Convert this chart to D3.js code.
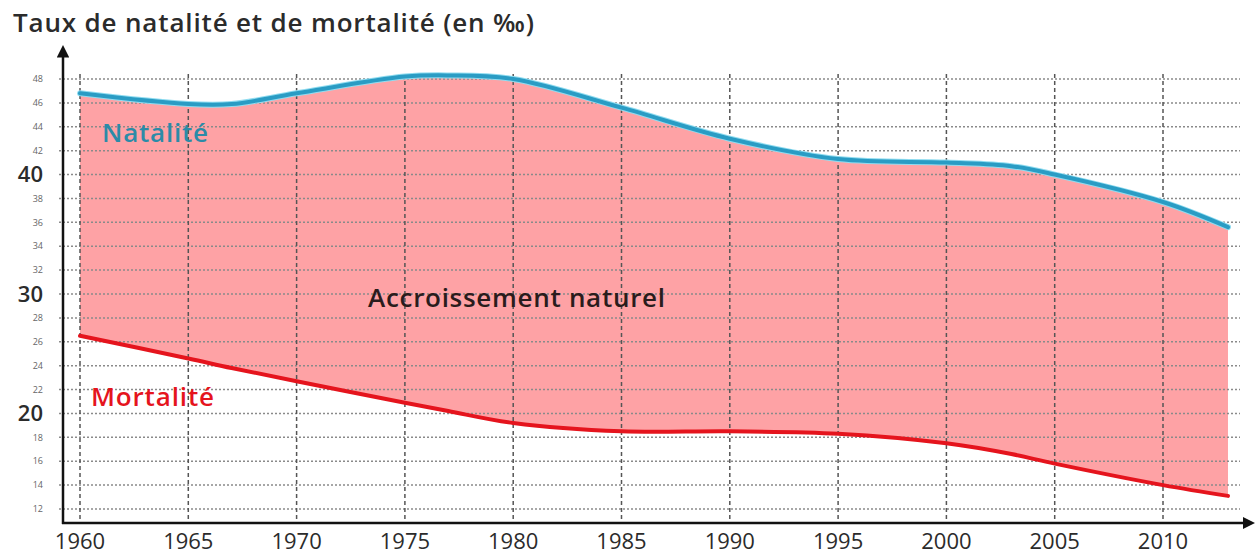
<!DOCTYPE html>
<html>
<head>
<meta charset="utf-8">
<script src="https://cdn.jsdelivr.net/npm/d3@7"></script>
<style>
  body { margin: 0; background: #fff; }
  svg { display: block; font-family: "Open Sans", sans-serif; }
</style>
</head>
<body>
<div id="chart"></div>
<script>
// data (‰)
const years = [1960, 1965, 1967, 1970, 1975, 1977, 1980, 1985, 1990, 1995, 2000, 2003, 2005, 2010, 2013];
const natalite = [46.8, 45.9, 45.9, 46.8, 48.2, 48.3, 48.0, 45.6, 43.0, 41.3, 41.0, 40.7, 40.0, 37.7, 35.6];
const mortalite = [26.5, 24.6, 23.8, 22.7, 20.9, 20.2, 19.2, 18.5, 18.5, 18.3, 17.5, 16.6, 15.8, 14.0, 13.1];
const xTicks = [1960, 1965, 1970, 1975, 1980, 1985, 1990, 1995, 2000, 2005, 2010];
const yTicks = [12, 14, 16, 18, 20, 22, 24, 26, 28, 30, 32, 34, 36, 38, 40, 42, 44, 46, 48];
const bigTicks = [20, 30, 40];

const width = 1257;
const height = 556;

const rows = years.map((y, i) => ({ year: y, nat: natalite[i], mort: mortalite[i] }));

const svg = d3.select('#chart')
  .append('svg')
  .attr('width', width)
  .attr('height', height);

// scales
const x = d3.scaleLinear().domain([1960, 2010]).range([80, 1163]);
const y = d3.scaleLinear().domain([12, 48]).range([509, 79]);
const axisX = 63;
const axisY = 523;
const curve = d3.curveCatmullRom.alpha(0.5);

// filled area between the two rates
const area = d3.area()
  .x(d => x(d.year))
  .y0(d => y(d.mort))
  .y1(d => y(d.nat))
  .curve(curve);

svg.append('path')
  .datum(rows)
  .attr('d', area)
  .attr('fill', '#fea2a5');

// horizontal dotted grid
svg.append('g')
  .selectAll('line')
  .data(yTicks)
  .enter()
  .append('line')
  .attr('x1', axisX - 4)
  .attr('x2', 1240)
  .attr('y1', d => y(d))
  .attr('y2', d => y(d))
  .attr('stroke', '#8a8a8a')
  .attr('stroke-width', 1.5)
  .attr('stroke-dasharray', '2,2');

// vertical dashed grid
svg.append('g')
  .selectAll('line')
  .data(xTicks)
  .enter()
  .append('line')
  .attr('x1', d => x(d))
  .attr('x2', d => x(d))
  .attr('y1', 74)
  .attr('y2', axisY)
  .attr('stroke', '#555')
  .attr('stroke-width', 1.5)
  .attr('stroke-dasharray', '4,3');

// curves
const natLine = d3.line()
  .x(d => x(d.year))
  .y(d => y(d.nat))
  .curve(curve);

const mortLine = d3.line()
  .x(d => x(d.year))
  .y(d => y(d.mort))
  .curve(curve);

svg.append('path')
  .datum(rows)
  .attr('d', natLine)
  .attr('fill', 'none')
  .attr('stroke', '#8fdcf0')
  .attr('stroke-width', 6)
  .attr('stroke-linecap', 'round');

svg.append('path')
  .datum(rows)
  .attr('d', natLine)
  .attr('fill', 'none')
  .attr('stroke', '#2a9cc4')
  .attr('stroke-width', 4)
  .attr('stroke-linecap', 'round');

svg.append('path')
  .datum(rows)
  .attr('d', mortLine)
  .attr('fill', 'none')
  .attr('stroke', '#e5141d')
  .attr('stroke-width', 4)
  .attr('stroke-linecap', 'round');

// axes with arrows
const defs = svg.append('defs');
defs.append('marker')
  .attr('id', 'arrow')
  .attr('viewBox', '0 0 10 10')
  .attr('refX', 2)
  .attr('refY', 5)
  .attr('markerWidth', 5)
  .attr('markerHeight', 5)
  .attr('orient', 'auto')
  .append('path')
  .attr('d', 'M0,0 L10,5 L0,10 Z')
  .attr('fill', '#111');

svg.append('line')
  .attr('x1', axisX)
  .attr('x2', axisX)
  .attr('y1', axisY + 1)
  .attr('y2', 55)
  .attr('stroke', '#111')
  .attr('stroke-width', 2.5)
  .attr('marker-end', 'url(#arrow)');

svg.append('line')
  .attr('x1', axisX - 1)
  .attr('x2', 1245)
  .attr('y1', axisY)
  .attr('y2', axisY)
  .attr('stroke', '#111')
  .attr('stroke-width', 2.5)
  .attr('marker-end', 'url(#arrow)');

// y tick labels
svg.append('g')
  .selectAll('text')
  .data(yTicks)
  .enter()
  .append('text')
  .attr('x', 43)
  .attr('y', d => y(d))
  .attr('dy', '0.36em')
  .attr('text-anchor', 'end')
  .style('font-size', d => bigTicks.includes(d) ? '22px' : '9px')
  .style('font-weight', d => bigTicks.includes(d) ? 600 : 400)
  .style('fill', d => bigTicks.includes(d) ? '#2b2b2b' : '#666')
  .text(d => d);

// x tick labels
svg.append('g')
  .selectAll('text')
  .data(xTicks)
  .enter()
  .append('text')
  .attr('x', d => x(d))
  .attr('y', 549)
  .attr('text-anchor', 'middle')
  .style('font-size', '22px')
  .style('font-weight', 500)
  .style('fill', '#2b2b2b')
  .text(d => d);

// title and labels (widths measured on the reference)
const addLabel = (txt, lx, ly, size, len, color) => {
  svg.append('text')
    .attr('x', lx)
    .attr('y', ly)
    .attr('textLength', len)
    .attr('lengthAdjust', 'spacing')
    .style('font-size', size + 'px')
    .style('font-weight', 600)
    .style('fill', color)
    .text(txt);
};

addLabel('Taux de natalité et de mortalité (en ‰)', 13, 32, 26, 521, '#2b2b2b');
addLabel('Natalité', 102, 142, 26, 106, '#2b8ba8');
addLabel('Mortalité', 91, 406, 26, 123, '#e5141d');
addLabel('Accroissement naturel', 368, 307, 26, 297, '#2a1c1c');
</script>
</body>
</html>
